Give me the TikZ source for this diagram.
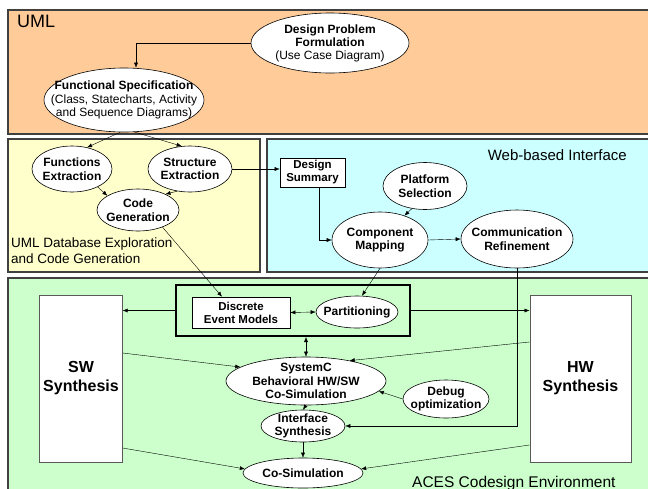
\documentclass[tikz,border=0pt]{standalone}
\usepackage{fontspec}
\setmainfont{Liberation Sans}
\usetikzlibrary{arrows.meta,calc,shapes.geometric}
\definecolor{umlorange}{RGB}{255,204,153}
\definecolor{dbyellow}{RGB}{255,255,204}
\definecolor{webcyan}{RGB}{204,255,255}
\definecolor{acesgreen}{RGB}{204,255,204}
\tikzset{
    flow diagram/.style = {x=1pt, y=-1pt, >={Latex[length=5pt,width=4pt]}},
    panel/.style        = {draw=black!75, line width=1.1pt},
    blob/.style         = {ellipse, draw, semithick, fill=white,
                           inner xsep=-40pt, inner ysep=-12pt,
                           align=center, font=\bfseries\fontsize{12}{13.5}\selectfont},
    box/.style          = {rectangle, draw, semithick, fill=white, inner sep=0pt,
                           align=center, font=\bfseries\fontsize{11.5}{13}\selectfont},
    synth/.style        = {rectangle, draw=black!65, line width=1pt, fill=white,
                           align=center, font=\bfseries\fontsize{16}{19}\selectfont},
    title/.style        = {inner sep=0pt}
}

\begin{document}
\begin{tikzpicture}[flow diagram]
\clip (0,0) rectangle (648,488);
\fill[white] (0,0) rectangle (648,488);

% ================= Panels =================
\draw[panel, fill=umlorange] (8,10) rectangle (660,134);
\draw[panel, fill=dbyellow] (8,139) rectangle (260,272);
\draw[panel, fill=webcyan] (267,139) rectangle (660,272);
\draw[panel, fill=acesgreen] (8,278) rectangle (660,500);
\node[title, anchor=west, font=\fontsize{18}{20}\selectfont] (umltitle) at (17,21) {UML};
\node[title, anchor=north west, align=left, font=\fontsize{13.5}{16}\selectfont]
    (dbtitle) at (11,238) {UML Database Exploration\\and Code Generation};
\node[title, anchor=east, font=\fontsize{15}{17}\selectfont] (webtitle) at (627,155) {Web-based Interface};
\node[title, anchor=west, font=\fontsize{15.5}{17}\selectfont] (acestitle) at (412,483) {ACES Codesign Environment};

% ================= UML =================
\node[blob, minimum width=158, minimum height=60] (dpf) at (330,43)
    {Design Problem\\Formulation\\[-1pt]{\mdseries(Use Case Diagram)}};
\node[blob, minimum width=160, minimum height=64] (fspec) at (124,100)
    {Functional Specification\\{\mdseries(Class, Statecharts, Activity}\\{\mdseries and Sequence Diagrams)}};
\draw[->] (dpf.west) -| ([xshift=12pt]fspec.north);

% ================= Database exploration =================
\node[blob, minimum width=80, minimum height=46] (funcx) at (72,169) {Functions\\Extraction};
\node[blob, minimum width=84, minimum height=46] (structx) at (190,169) {Structure\\Extraction};
\node[blob, minimum width=82, minimum height=42] (codegen) at (138,210) {Code\\Generation};
\draw[->] (fspec.-97) -- (funcx.55);
\draw[->] (fspec.-72) -- (structx.110);
\draw[->] (funcx.-35) -- (codegen.155);
\draw[->] (structx.-120) -- (codegen.30);

% ================= Web interface =================
\node[box, minimum width=65, minimum height=29] (dsum) at (312.5,172.5) {Design\\Summary};
\node[blob, minimum width=84, minimum height=47] (platsel) at (425,186) {Platform\\Selection};
\node[blob, minimum width=96, minimum height=56] (compmap) at (380,240) {Component\\Mapping};
\node[blob, minimum width=112, minimum height=58] (commref) at (517,239) {Communication\\Refinement};
\draw[->] (structx.east) -- (structx.east -| dsum.west);
\draw[->] ([xshift=7pt]dsum.south) |- (compmap.west);
\draw[->] (platsel.-120) -- (compmap.45);
\draw[->] (compmap.east) -- (commref.west);

% ================= Codesign environment =================
\node[draw, line width=2pt, minimum width=234, minimum height=51, inner sep=0pt]
    (partbox) at (293,310.5) {};
\node[box, minimum width=98, minimum height=31] (dem) at (241,312.5) {Discrete\\Event Models};
\node[blob, minimum width=82, minimum height=32] (part) at (357,312) {Partitioning};
\node[synth, minimum width=82, minimum height=167] (swbox) at (81,378.5) {SW\\Synthesis};
\node[synth, minimum width=101, minimum height=167] (hwbox) at (580.5,378.5) {HW\\Synthesis};
\node[blob, minimum width=160, minimum height=48] (sysc) at (306,381)
    {SystemC\\Behavioral HW/SW\\Co-Simulation};
\node[blob, minimum width=86, minimum height=38] (debug) at (446,399) {Debug\\optimization};
\node[blob, minimum width=84, minimum height=32] (ifsyn) at (303,426) {Interface\\Synthesis};
\node[blob, minimum width=120, minimum height=30] (cosim) at (303,473) {Co-Simulation};

\draw[->] (codegen.-35) -- ([xshift=-19pt]dem.north);
\draw[->] (compmap.south) -- ([xshift=5pt]part.north);
\draw[->] (commref.south) |- (ifsyn.east);
\draw[<->] (dem.east) -- (part.west);
\draw[->] (partbox.west) -- (partbox.west -| swbox.east);
\draw[->] (partbox.east) -- (partbox.east -| hwbox.west);
\draw[<->] (sysc.north |- partbox.south) -- (sysc.north);
\draw[->] ([yshift=25.5pt]swbox.east) -- (sysc.168);
\draw[->] ([yshift=36.5pt]hwbox.west) -- (sysc.25);
\draw[->] (debug.west) -- (sysc.-8);
\draw[->] (sysc.south) -- (ifsyn.north);
\draw[->] (ifsyn.south) -- (cosim.north);
\draw[->] ([yshift=-69.5pt]swbox.east) -- (cosim.176);
\draw[->] ([yshift=-66.5pt]hwbox.west) -- (cosim.4);

\end{tikzpicture}
\end{document}
